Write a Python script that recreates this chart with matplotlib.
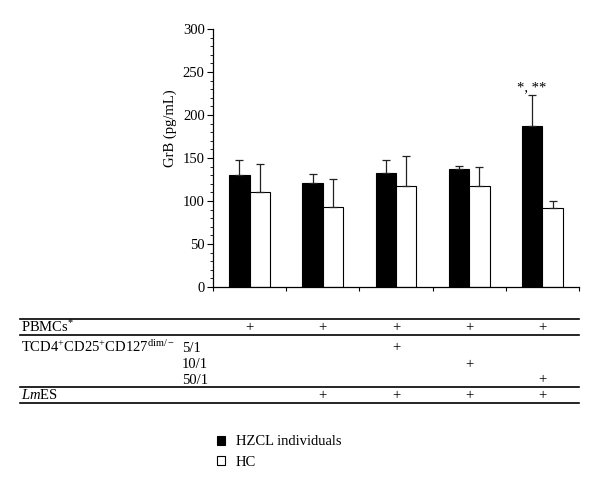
"""GrB levels for HZCL individuals vs. healthy controls, with the culture-condition table below."""

import matplotlib
matplotlib.use("Agg")
import matplotlib.pyplot as plt
from matplotlib.lines import Line2D
from matplotlib.patches import Patch
from matplotlib.transforms import blended_transform_factory
import numpy as np

plt.rcParams["font.family"] = ["Liberation Serif", "DejaVu Serif"]
plt.rcParams["mathtext.fontset"] = "custom"
plt.rcParams["mathtext.rm"] = "Liberation Serif"
plt.rcParams["mathtext.it"] = "Liberation Serif:italic"
plt.rcParams["mathtext.default"] = "regular"

# ---- Data ----
hzcl_mean = [130, 121, 133, 137, 187]
hzcl_err = [18, 10, 15, 4, 36]
hc_mean = [111, 93, 118, 118, 92]
hc_err = [32, 32, 34, 22, 8]
series_labels = ["HZCL individuals", "HC"]
significance_label = "*, **"

# Culture conditions table (1 = present)
pbmcs = [1, 1, 1, 1, 1]
ratio_5 = [0, 0, 1, 0, 0]
ratio_10 = [0, 0, 0, 1, 0]
ratio_50 = [0, 0, 0, 0, 1]
lmes = [0, 1, 1, 1, 1]

y_ticks = [0, 50, 100, 150, 200, 250, 300]

W, H = 600, 490
BAR_W = 0.28


def fy(py):
    """pixel row -> figure fraction"""
    return 1 - py / H


fig = plt.figure(figsize=(6, 4.9), dpi=100)
ax = fig.add_axes([213 / W, fy(287), (579 - 213) / W, (287 - 29) / H])

x = np.arange(len(hzcl_mean))
ekw = dict(ecolor="#222222", elinewidth=0.9, capsize=3, capthick=0.9)
ax.bar(x - BAR_W / 2, hzcl_mean, BAR_W, color="black", edgecolor="black", linewidth=0.8,
       yerr=[np.zeros(len(x)), hzcl_err], error_kw=ekw)
ax.bar(x + BAR_W / 2, hc_mean, BAR_W, color="white", edgecolor="black", linewidth=0.8,
       yerr=[np.zeros(len(x)), hc_err], error_kw=ekw)

ax.annotate(significance_label, xy=(x[-1] - BAR_W / 2, hzcl_mean[-1] + hzcl_err[-1]),
            xytext=(0, 1), textcoords="offset points", ha="center", va="bottom", fontsize=10.5)

ax.set_xlim(-0.5, len(x) - 0.5)
ax.set_ylim(0, 300)
ax.set_yticks(y_ticks)
ax.set_yticks(np.arange(0, 301, 10), minor=True)
ax.set_xticks(np.arange(-0.5, len(x), 1.0))
ax.set_xticklabels([])
ax.tick_params(axis="y", which="major", direction="out", length=4, width=0.8, labelsize=10.5, pad=2)
ax.tick_params(axis="y", which="minor", direction="out", length=2, width=0.6)
ax.tick_params(axis="x", direction="out", length=3, width=0.8)
for s in ("top", "right"):
    ax.spines[s].set_visible(False)
for s in ("left", "bottom"):
    ax.spines[s].set_linewidth(0.9)

ax.set_ylabel("GrB (pg/mL)", fontsize=10.5)
ax.yaxis.set_label_coords(-0.097, 0.616)

# ---- Table below the chart ----
for py in (319, 335, 387, 403):
    fig.add_artist(Line2D([20 / W, 579 / W], [fy(py), fy(py)], transform=fig.transFigure,
                          color="black", linewidth=1.2))

rows = [
    (331.5, pbmcs),
    (351.5, ratio_5),
    (368, ratio_10),
    (383.5, ratio_50),
    (399, lmes),
]
fs = 10.5
fig.text(21 / W, fy(331.5), r"PBMCs$^{*}$", fontsize=fs, va="baseline")
fig.text(21 / W, fy(351.5), r"TCD4$^{+}$CD25$^{+}$CD127$^{dim/-}$", fontsize=fs, va="baseline")
fig.text(182 / W, fy(351.5), "5/1", fontsize=fs, va="baseline")
fig.text(182 / W, fy(368), "10/1", fontsize=fs, va="baseline")
fig.text(182 / W, fy(383.5), "50/1", fontsize=fs, va="baseline")
fig.text(21 / W, fy(399), r"$\it{Lm}$ES", fontsize=fs, va="baseline")

tr = blended_transform_factory(ax.transData, fig.transFigure)
for py, flags in rows:
    for xi, f in zip(x, flags):
        if f:
            fig.text(xi, fy(py), "+", transform=tr, ha="center", va="baseline", fontsize=fs)

# ---- Legend ----
handles = [Patch(facecolor="black", edgecolor="black", linewidth=0.8),
           Patch(facecolor="white", edgecolor="black", linewidth=0.8)]
fig.legend(handles, series_labels, loc="upper left", bbox_to_anchor=(210 / W, fy(428)),
           frameon=False, fontsize=10.5, handlelength=0.55, handleheight=0.55,
           handletextpad=0.7, labelspacing=0.5, borderpad=0)

fig.savefig("out.png", dpi=100)
